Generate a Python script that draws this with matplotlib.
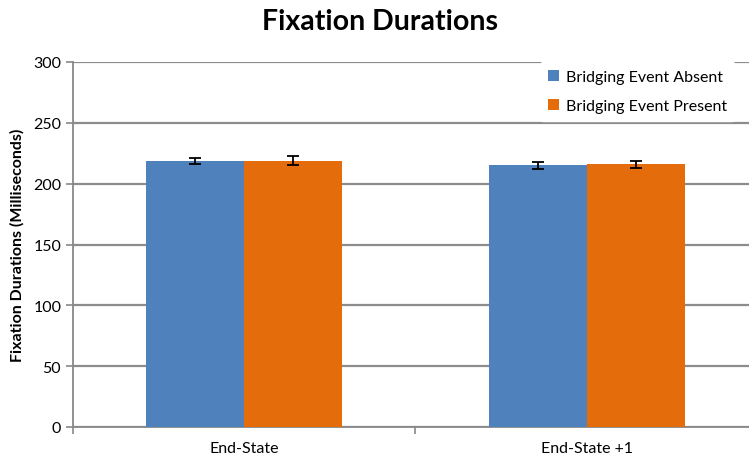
import numpy as np
import matplotlib
matplotlib.use("Agg")
import matplotlib.pyplot as plt

plt.rcParams['font.family'] = ['Lato', 'DejaVu Sans']

categories = ["End-State", "End-State +1"]
series_names = ["Bridging Event Absent", "Bridging Event Present"]
absent = [219, 215]
present = [219, 216]
absent_err = [2.5, 3]
present_err = [3.5, 3]
colors = ["#4F81BD", "#E46C0A"]

fig = plt.figure(figsize=(7.49, 4.60), dpi=100)
# plot area runs past the right edge of the picture, as in the original
ax = fig.add_axes([73/749, 32/460, 685/749, 365/460])

x = np.arange(len(categories))
w = 0.286
ekw = dict(ecolor="black", elinewidth=1.3, capsize=4, capthick=1.3)
ax.bar(x - w/2, absent, w, color=colors[0], label=series_names[0], zorder=3,
       yerr=absent_err, error_kw=ekw)
ax.bar(x + w/2, present, w, color=colors[1], label=series_names[1], zorder=3,
       yerr=present_err, error_kw=ekw)

ax.set_xlim(-0.5, 1.5)
ax.set_ylim(0, 300)
ax.set_yticks(range(0, 301, 50))
ax.set_xticks(x)
ax.set_xticklabels(categories, fontsize=11.5)
ax.set_xticks([-0.5, 0.5, 1.5], minor=True)
ax.tick_params(axis="x", which="major", length=0, pad=10)
ax.tick_params(axis="x", which="minor", length=5, color="#888888", width=1.2)
ax.tick_params(axis="y", length=5, color="#888888", width=1.2, labelsize=11.5)
ax.yaxis.grid(True, color="#8c8c8c", linewidth=1.6, zorder=0)
ax.set_axisbelow(True)
for s in ["top", "right"]:
    ax.spines[s].set_visible(False)
for s in ["left", "bottom"]:
    ax.spines[s].set_color("#888888")
    ax.spines[s].set_linewidth(1.3)

ax.set_ylabel("Fixation Durations (Milliseconds)", fontsize=11.5, fontweight="bold", labelpad=6)
fig.text(0.507, 0.952, "Fixation Durations", ha="center", va="center",
         fontsize=20.5, fontweight="bold")

leg = fig.legend(loc="upper left", bbox_to_anchor=(532/749, 1 - 55/460),
                 bbox_transform=fig.transFigure, frameon=True,
                 fontsize=11.5, handlelength=0.7, handleheight=0.7, labelspacing=0.9,
                 borderpad=0.5, handletextpad=0.4)
leg.get_frame().set_facecolor("white")
leg.get_frame().set_edgecolor("white")
leg.get_frame().set_alpha(1)
leg.set_zorder(5)

fig.savefig("out.png", dpi=100)
